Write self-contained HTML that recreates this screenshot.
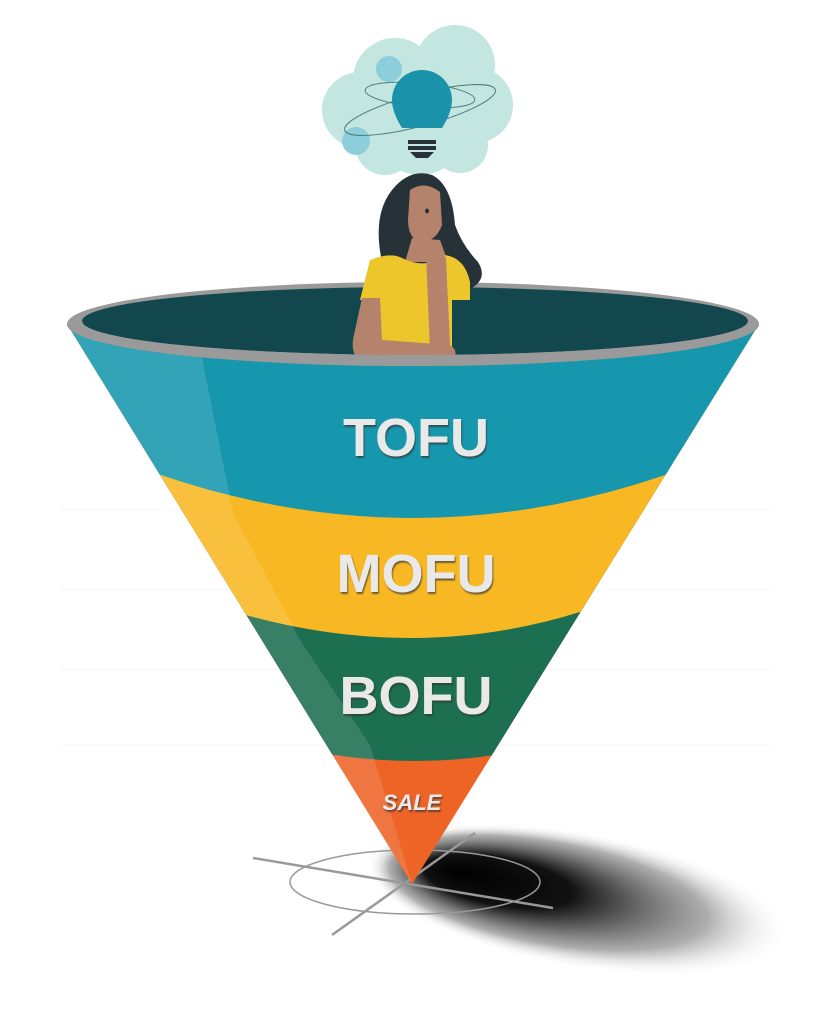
<!DOCTYPE html>
<html><head><meta charset="utf-8"><style>
html,body{margin:0;padding:0;background:#fff;}
svg{display:block;}
text{font-family:"Liberation Sans",sans-serif;font-weight:bold;}
</style></head><body>
<svg width="826" height="1024" viewBox="0 0 826 1024" xmlns="http://www.w3.org/2000/svg">
<defs>
<clipPath id="cone"><path d="M67 324 A346 42 0 0 0 759 324 L412 884 Z"/></clipPath>
<radialGradient id="sh" cx="0.5" cy="0.5" r="0.5" fx="0.2" fy="0.45">
<stop offset="0" stop-color="#000"/><stop offset="0.35" stop-color="#111"/><stop offset="0.75" stop-color="#777" stop-opacity="0.6"/><stop offset="1" stop-color="#fff" stop-opacity="0"/>
</radialGradient>
<filter id="ts"><feDropShadow dx="1" dy="2" stdDeviation="0.8" flood-color="#333" flood-opacity="0.7"/></filter>
</defs>
<g stroke="#f5f5f5" stroke-width="1">
<line x1="60" y1="510" x2="770" y2="510"/><line x1="60" y1="590" x2="770" y2="590"/><line x1="60" y1="670" x2="770" y2="670"/><line x1="60" y1="745" x2="770" y2="745"/>
</g>
<ellipse cx="580" cy="900" rx="215" ry="68" transform="rotate(10 580 900)" fill="url(#sh)"/>
<g stroke="#999" fill="none" stroke-width="2.5">
<ellipse cx="415" cy="882" rx="125" ry="32" stroke-width="1.5"/>
<line x1="253" y1="858" x2="553" y2="908"/>
<line x1="332" y1="935" x2="475" y2="833"/>
</g>
<g fill="#c3e6e0">
<circle cx="395" cy="80" r="42"/><circle cx="455" cy="65" r="40"/><circle cx="475" cy="105" r="38"/>
<circle cx="360" cy="110" r="38"/><circle cx="420" cy="130" r="45"/><circle cx="385" cy="145" r="30"/><circle cx="460" cy="145" r="28"/>
</g>
<circle cx="389" cy="69" r="13" fill="#8ccedb"/>
<circle cx="356" cy="141" r="14" fill="#8ccedb"/>
<g fill="none" stroke="#4c7d80" stroke-width="1">
<ellipse cx="420" cy="95" rx="55" ry="12" transform="rotate(5 420 95)"/>
<ellipse cx="420" cy="110" rx="78" ry="16" transform="rotate(-15 420 110)"/>
</g>
<path d="M402 128 Q392 112 392 100 A30 30 0 1 1 452 100 Q452 112 442 128 Z" fill="#1992aa"/>
<rect x="408" y="140" width="28" height="4" fill="#263238"/>
<rect x="408" y="146" width="28" height="4" fill="#263238"/>
<path d="M410 152 H434 L428 158 H416 Z" fill="#263238"/>
<!-- rim -->
<ellipse cx="413" cy="324" rx="346" ry="42" fill="#9a9a9a"/>
<ellipse cx="415" cy="321" rx="333" ry="34" fill="#12484d"/>
<!-- woman -->
<path d="M382 262 Q372 215 392 190 Q410 168 432 175 Q452 185 455 225 Q462 245 478 262 Q488 278 472 288 L385 288 Z" fill="#263238"/>
<path d="M410 190 Q425 180 440 192 L442 225 Q436 242 420 242 Q408 238 408 220 Z" fill="#b5836c"/>
<path d="M412 238 L440 240 L448 262 L405 262 Z" fill="#b5836c"/>
<path d="M370 260 Q390 252 402 258 Q425 270 445 255 Q465 258 470 282 L470 300 L452 300 L452 358 L378 358 L378 300 L360 300 Z" fill="#ecc62a"/>
<path d="M362 298 L380 298 L382 340 L450 345 Q460 352 452 360 L358 360 Q350 350 354 335 Z" fill="#b5836c"/>
<path d="M426 255 Q436 245 446 258 L450 345 L430 350 Z" fill="#b5836c"/>
<ellipse cx="427" cy="211" rx="2" ry="2.5" fill="#263238"/>
<!-- cone -->
<g clip-path="url(#cone)">
<rect x="0" y="280" width="826" height="620" fill="#ee6427"/>
<path d="M0 280 H826 V755 L495 755 Q415 767 335 755 L0 755 Z" fill="#1c6f50"/>
<path d="M0 280 H826 V612 L580 612 Q413 664 235 612 L0 612 Z" fill="#f8b823"/>
<path d="M0 280 H826 V475 L665 475 Q413 561 161 475 L0 475 Z" fill="#1797ad"/>
<path d="M0 280 L190 280 L203 363 L233 513 L300 640 L370 745 L412 884 L0 884 Z" fill="#fff" opacity="0.12"/>
</g>
<!-- front rim band -->
<path d="M82 321 A333 34 0 0 0 748 321 L759 324 A346 42 0 0 1 67 324 Z" fill="#9a9a9a"/>
<g fill="#e9e9e9" filter="url(#ts)" text-anchor="middle">
<text x="416" y="456" font-size="54">TOFU</text>
<text x="416" y="592" font-size="54">MOFU</text>
<text x="416" y="714" font-size="54">BOFU</text>
<text x="412" y="810" font-size="22" font-style="italic" font-weight="normal">SALE</text>
</g>
</svg>
</body></html>
